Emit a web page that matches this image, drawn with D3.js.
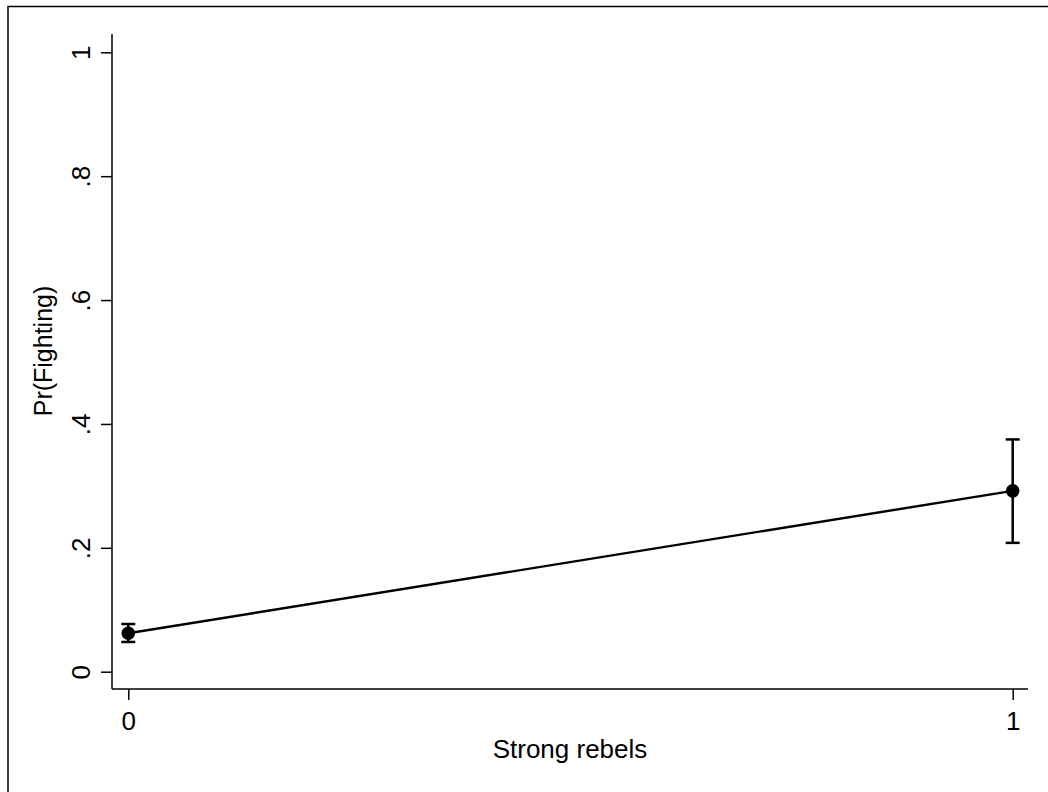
<!DOCTYPE html>
<html>
<head>
<meta charset="utf-8">
<script src="https://cdn.jsdelivr.net/npm/d3@7"></script>
<style>
  body { margin: 0; background: #fff; }
  svg { display: block; }
  text { font-family: "Liberation Sans", Arial, sans-serif; fill: #000; }
</style>
</head>
<body>
<script>
// data
var categories = [0, 1];
var estimates = [0.062, 0.292];
var lower = [0.048, 0.208];
var upper = [0.077, 0.375];
var yTicks = [0, 0.2, 0.4, 0.6, 0.8, 1];
var yTickLabels = ["0", ".2", ".4", ".6", ".8", "1"];
var xTitle = "Strong rebels";
var yTitle = "Pr(Fighting)";

var width = 1048;
var height = 792;
var fontSize = 26;

var svg = d3.select("body").append("svg")
	.attr("width", width)
	.attr("height", height);

svg.append("rect").attr("width", width).attr("height", height).attr("fill", "#fff");

// outer frame, cut off at right and bottom
svg.append("rect")
	.attr("x", 8).attr("y", 6.5)
	.attr("width", 1100).attr("height", 900)
	.attr("fill", "none").attr("stroke", "#000").attr("stroke-width", 1.5);

var x = d3.scaleLinear().domain([0, 1]).range([128.3, 1012.7]);
var y = d3.scaleLinear().domain([0, 1]).range([671.7, 52.3]);

var plotLeft = 112, plotRight = 1028, plotTop = 34, plotBottom = 689;

// y axis
var yAxis = d3.axisLeft(y)
	.tickValues(yTicks)
	.tickSize(11)
	.tickPadding(0)
	.tickFormat(function(d, i) { return yTickLabels[i]; });

var gy = svg.append("g").attr("transform", "translate(" + plotLeft + ",0)").call(yAxis);
gy.select(".domain").remove();
gy.selectAll(".tick line").attr("stroke", "#000").attr("stroke-width", 1.5);
gy.selectAll(".tick text")
	.attr("x", null).attr("dy", null)
	.attr("transform", "translate(-22,0) rotate(-90)")
	.attr("text-anchor", "middle")
	.attr("font-size", fontSize)
	.attr("font-family", "Liberation Sans, Arial, sans-serif");

svg.append("line")
	.attr("x1", plotLeft).attr("x2", plotLeft)
	.attr("y1", plotTop).attr("y2", plotBottom)
	.attr("stroke", "#000").attr("stroke-width", 1.5);

// x axis
var xAxis = d3.axisBottom(x)
	.tickValues(categories)
	.tickSize(11)
	.tickPadding(0)
	.tickFormat(d3.format("d"));

var gx = svg.append("g").attr("transform", "translate(0," + plotBottom + ")").call(xAxis);
gx.select(".domain").remove();
gx.selectAll(".tick line").attr("stroke", "#000").attr("stroke-width", 1.5);
gx.selectAll(".tick text")
	.attr("y", 41).attr("dy", null)
	.attr("font-size", fontSize)
	.attr("font-family", "Liberation Sans, Arial, sans-serif");

svg.append("line")
	.attr("x1", plotLeft).attr("x2", plotRight)
	.attr("y1", plotBottom).attr("y2", plotBottom)
	.attr("stroke", "#000").attr("stroke-width", 1.5);

// axis titles
svg.append("text")
	.attr("x", (plotLeft + plotRight) / 2)
	.attr("y", 758)
	.attr("text-anchor", "middle")
	.attr("font-size", fontSize)
	.text(xTitle);

svg.append("text")
	.attr("transform", "translate(52,351) rotate(-90)")
	.attr("text-anchor", "middle")
	.attr("font-size", 25)
	.text(yTitle);

// connecting line
var line = d3.line()
	.x(function(d, i) { return x(categories[i]); })
	.y(function(d) { return y(d); });

svg.append("path")
	.datum(estimates)
	.attr("d", line)
	.attr("fill", "none")
	.attr("stroke", "#000")
	.attr("stroke-width", 2.4);

// error bars
var capHalf = 7;
var bars = svg.selectAll(".ci").data(categories).enter().append("g").attr("class", "ci");

bars.append("line")
	.attr("x1", function(d) { return x(d); })
	.attr("x2", function(d) { return x(d); })
	.attr("y1", function(d, i) { return y(lower[i]); })
	.attr("y2", function(d, i) { return y(upper[i]); })
	.attr("stroke", "#000").attr("stroke-width", 2.5);

bars.append("line")
	.attr("x1", function(d) { return x(d) - capHalf; })
	.attr("x2", function(d) { return x(d) + capHalf; })
	.attr("y1", function(d, i) { return y(upper[i]); })
	.attr("y2", function(d, i) { return y(upper[i]); })
	.attr("stroke", "#000").attr("stroke-width", 2.5);

bars.append("line")
	.attr("x1", function(d) { return x(d) - capHalf; })
	.attr("x2", function(d) { return x(d) + capHalf; })
	.attr("y1", function(d, i) { return y(lower[i]); })
	.attr("y2", function(d, i) { return y(lower[i]); })
	.attr("stroke", "#000").attr("stroke-width", 2.5);

// points
svg.selectAll("circle.pt").data(categories).enter().append("circle")
	.attr("class", "pt")
	.attr("cx", function(d) { return x(d); })
	.attr("cy", function(d, i) { return y(estimates[i]); })
	.attr("r", 6.8)
	.attr("fill", "#000");
</script>
</body>
</html>
